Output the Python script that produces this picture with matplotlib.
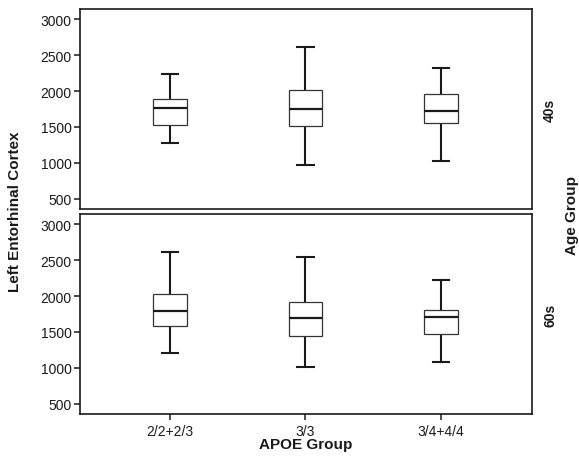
import matplotlib
matplotlib.use("Agg")
import matplotlib.pyplot as plt

plt.rcParams['font.family'] = ['Liberation Sans', 'DejaVu Sans']

groups = ["2/2+2/3", "3/3", "3/4+4/4"]
age_groups = ["40s", "60s"]

# five-number summaries per age group: whislo, q1, med, q3, whishi
s40_lo = [1278, 977, 1023]
s40_q1 = [1528, 1514, 1551]
s40_med = [1759, 1745, 1727]
s40_q3 = [1893, 2009, 1958]
s40_hi = [2240, 2616, 2324]

s60_lo = [1208, 1014, 1079]
s60_q1 = [1588, 1449, 1472]
s60_med = [1796, 1694, 1704]
s60_q3 = [2028, 1921, 1806]
s60_hi = [2606, 2537, 2227]

yticks = [500, 1000, 1500, 2000, 2500, 3000]

W, H = 579, 464
fig = plt.figure(figsize=(W / 100, H / 100), dpi=100)

def ax_at(left, top, right, bottom):
    return fig.add_axes([left / W, (H - bottom) / H, (right - left) / W, (bottom - top) / H])

ax_top = ax_at(80, 10, 532, 210)
ax_bot = ax_at(80, 215, 532, 415)

data = [
    (ax_top, s40_lo, s40_q1, s40_med, s40_q3, s40_hi, age_groups[0]),
    (ax_bot, s60_lo, s60_q1, s60_med, s60_q3, s60_hi, age_groups[1]),
]

col = "#1a1a1a"
for ax, lo, q1, med, q3, hi, lab in data:
    stats = []
    for i in range(len(groups)):
        stats.append(dict(whislo=lo[i], q1=q1[i], med=med[i], q3=q3[i], whishi=hi[i], fliers=[]))
    ax.bxp(stats, positions=[1, 2, 3], widths=0.25, showfliers=False, patch_artist=True,
           boxprops=dict(facecolor="white", edgecolor="#333333", linewidth=0.9, zorder=3),
           whiskerprops=dict(color=col, linewidth=1.5),
           capprops=dict(color=col, linewidth=1.5),
           medianprops=dict(color=col, linewidth=1.6, zorder=4),
           capwidths=0.12)
    ax.set_xlim(0.338, 3.67)
    ax.set_ylim(361, 3139)
    ax.set_yticks(yticks)
    ax.set_yticklabels([str(v) for v in yticks], fontsize=10)
    for sp in ax.spines.values():
        sp.set_linewidth(1.2)
        sp.set_color(col)
    ax.tick_params(axis='y', direction='out', length=4, width=1.1, colors=col, pad=2)
    ax.text(1.04, 0.5, lab, transform=ax.transAxes, rotation=90, ha='center', va='center',
            fontsize=10, fontweight='bold', color=col)

ax_top.set_xticks([])
ax_bot.set_xticks([1, 2, 3])
ax_bot.set_xticklabels(groups, fontsize=10)
ax_bot.tick_params(axis='x', direction='out', length=4, width=1.1, colors=col, pad=3)

fig.text(306 / W, 1 - 445 / H, "APOE Group", ha='center', va='center',
         fontsize=11, fontweight='bold', color=col)
fig.text(15 / W, 1 - 212 / H, "Left Entorhinal Cortex", rotation=90, ha='center', va='center',
         fontsize=11, fontweight='bold', color=col)
fig.text(572 / W, 1 - 216 / H, "Age Group", rotation=90, ha='center', va='center',
         fontsize=11, fontweight='bold', color=col)

fig.savefig("out.png", dpi=100)
